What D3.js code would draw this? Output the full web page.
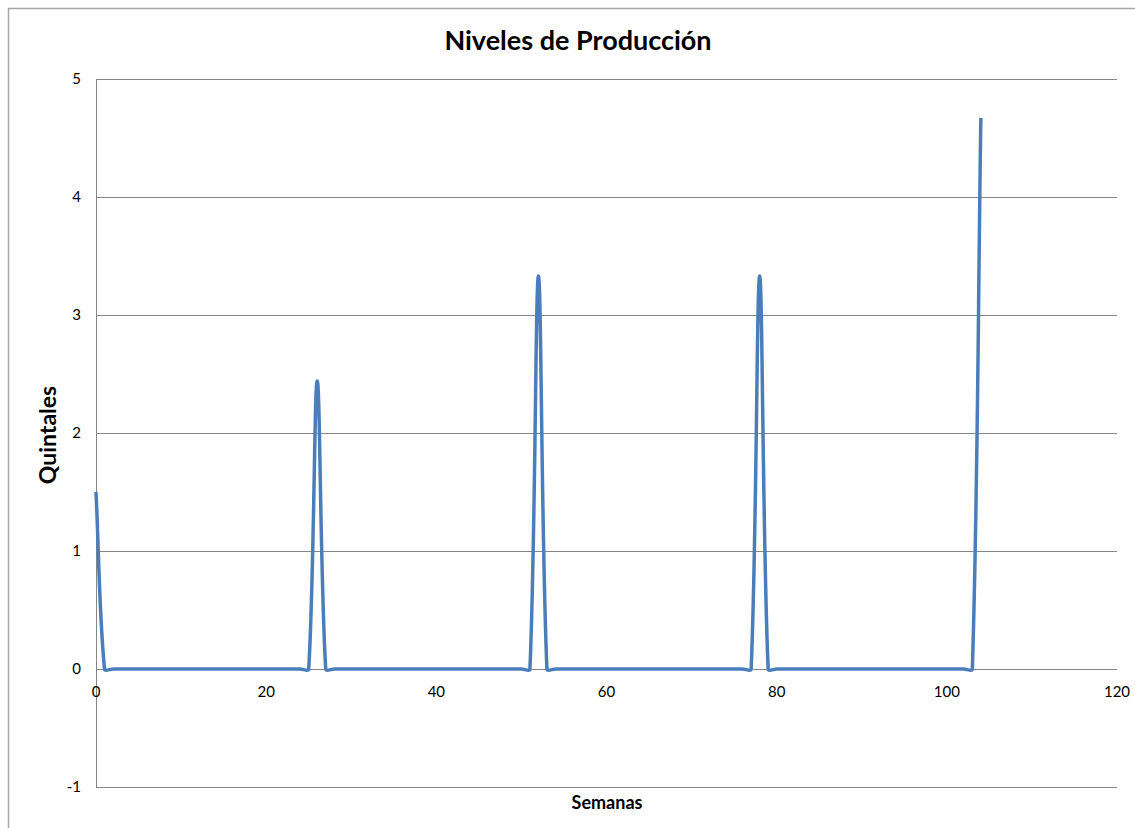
<!DOCTYPE html>
<html>
<head>
<meta charset="utf-8">
<script src="https://cdn.jsdelivr.net/npm/d3@7"></script>
<style>
  body { margin: 0; background: #fff; }
  text { font-family: Lato, "Open Sans", sans-serif; fill: #000; }
</style>
</head>
<body>
<svg id="chart" width="1135" height="828"></svg>
<script>
// weeks 0..104 and the production level of each week
const semanas = [
  0, 1, 2, 3, 4, 5, 6, 7, 8, 9, 10, 11, 12, 13, 14, 15, 16, 17, 18, 19, 20,
  21, 22, 23, 24, 25, 26, 27, 28, 29, 30, 31, 32, 33, 34, 35, 36, 37, 38, 39, 40,
  41, 42, 43, 44, 45, 46, 47, 48, 49, 50, 51, 52, 53, 54, 55, 56, 57, 58, 59, 60,
  61, 62, 63, 64, 65, 66, 67, 68, 69, 70, 71, 72, 73, 74, 75, 76, 77, 78, 79, 80,
  81, 82, 83, 84, 85, 86, 87, 88, 89, 90, 91, 92, 93, 94, 95, 96, 97, 98, 99, 100,
  101, 102, 103, 104
];
const quintales = [
  1.5, 0, 0, 0, 0, 0, 0, 0, 0, 0, 0, 0, 0, 0, 0, 0, 0, 0, 0, 0, 0,
  0, 0, 0, 0, 0, 2.44, 0, 0, 0, 0, 0, 0, 0, 0, 0, 0, 0, 0, 0, 0,
  0, 0, 0, 0, 0, 0, 0, 0, 0, 0, 0, 3.33, 0, 0, 0, 0, 0, 0, 0, 0,
  0, 0, 0, 0, 0, 0, 0, 0, 0, 0, 0, 0, 0, 0, 0, 0, 0, 3.33, 0, 0,
  0, 0, 0, 0, 0, 0, 0, 0, 0, 0, 0, 0, 0, 0, 0, 0, 0, 0, 0, 0,
  0, 0, 0, 4.67
];
const xTicks = [0, 20, 40, 60, 80, 100, 120];
const yTicks = [-1, 0, 1, 2, 3, 4, 5];

const svg = d3.select("#chart");

// outer chart frame
svg.append("path")
  .attr("d", "M8.5,828 V8.5 H1135")
  .attr("fill", "none")
  .attr("stroke", "#a6a6a6")
  .attr("stroke-width", 1.5);

const x = d3.scaleLinear().domain([0, 120]).range([96, 1117]);
const y = d3.scaleLinear().domain([-1, 5]).range([787, 79]);

// horizontal gridlines
svg.append("g")
  .selectAll("line")
  .data(yTicks)
  .enter()
  .append("line")
  .attr("x1", x(0))
  .attr("x2", x(120))
  .attr("y1", d => Math.round(y(d)) + 0.5)
  .attr("y2", d => Math.round(y(d)) + 0.5)
  .attr("stroke", "#868686")
  .attr("stroke-width", 1);

// vertical axis line
svg.append("line")
  .attr("x1", Math.round(x(0)) + 0.5)
  .attr("x2", Math.round(x(0)) + 0.5)
  .attr("y1", y(5))
  .attr("y2", y(-1))
  .attr("stroke", "#868686");

// y tick labels
svg.append("g")
  .selectAll("text")
  .data(yTicks)
  .enter()
  .append("text")
  .attr("x", 81)
  .attr("y", d => y(d) + 5)
  .attr("text-anchor", "end")
  .attr("font-size", 15)
  .text(d => d);

// x tick labels (axis crosses at 0)
svg.append("g")
  .selectAll("text")
  .data(xTicks)
  .enter()
  .append("text")
  .attr("x", d => x(d))
  .attr("y", y(0) + 28)
  .attr("text-anchor", "middle")
  .attr("font-size", 15)
  .text(d => d);

// excel-style smoothing: bezier handles along the neighbour chord,
// scaled by the length of the segment in pixels
function smoothPath(pts) {
  const p = d3.path();
  const dist = (a, b) => Math.hypot(b[0] - a[0], b[1] - a[1]);
  const n = pts.length;
  p.moveTo(pts[0][0], pts[0][1]);
  for (let i = 0; i < n - 1; i++) {
    const p0 = pts[Math.max(i - 1, 0)], p1 = pts[i], p2 = pts[i + 1], p3 = pts[Math.min(i + 2, n - 1)];
    const l01 = dist(p0, p1), l12 = dist(p1, p2), l23 = dist(p2, p3);
    const k1 = (l01 + l12) ? l12 / (l01 + l12) / 3 : 0;
    const k2 = (l12 + l23) ? l12 / (l12 + l23) / 3 : 0;
    p.bezierCurveTo(
      p1[0] + (p2[0] - p0[0]) * k1, p1[1] + (p2[1] - p0[1]) * k1,
      p2[0] - (p3[0] - p1[0]) * k2, p2[1] - (p3[1] - p1[1]) * k2,
      p2[0], p2[1]
    );
  }
  return p.toString();
}

const pts = quintales.map((v, i) => [x(semanas[i]), y(v)]);

svg.append("path")
  .attr("d", smoothPath(pts))
  .attr("fill", "none")
  .attr("stroke", "#4a7ebb")
  .attr("stroke-width", 3.5)
  .attr("stroke-linejoin", "round");

// titles
svg.append("text")
  .attr("x", 578)
  .attr("y", 50)
  .attr("text-anchor", "middle")
  .attr("font-size", 27)
  .attr("font-weight", "bold")
  .text("Niveles de Producción");

svg.append("text")
  .attr("transform", "translate(56,435) rotate(-90)")
  .attr("text-anchor", "middle")
  .attr("font-size", 23)
  .attr("font-weight", "bold")
  .text("Quintales");

svg.append("text")
  .attr("x", 607)
  .attr("y", 809)
  .attr("text-anchor", "middle")
  .attr("font-size", 18)
  .attr("font-weight", "bold")
  .text("Semanas");
</script>
</body>
</html>
